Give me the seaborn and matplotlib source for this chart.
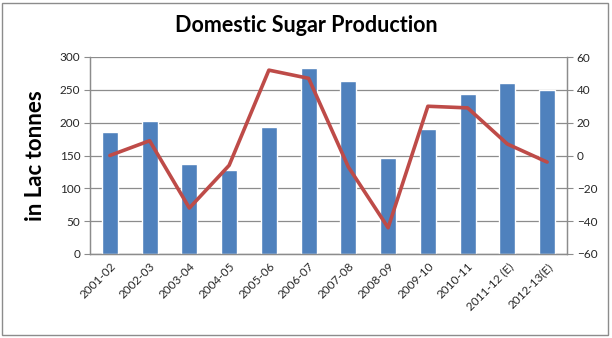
import numpy as np
import matplotlib
matplotlib.use("Agg")
import matplotlib.pyplot as plt
import seaborn as sns
from matplotlib.patches import Rectangle

seasons = ["2001-02", "2002-03", "2003-04", "2004-05", "2005-06", "2006-07",
           "2007-08", "2008-09", "2009-10", "2010-11", "2011-12 (E)", "2012-13(E)"]
production = [186, 203, 137, 128, 193, 284, 264, 146, 190, 244, 261, 250]
growth = [0, 9, -32, -6, 52, 47, -7, -44, 30, 29, 7, -4]
left_ticks = [0, 50, 100, 150, 200, 250, 300]
right_ticks = [-60, -40, -20, 0, 20, 40, 60]

sns.set_style("white")
plt.rcParams['font.family'] = ['Lato', 'DejaVu Sans']

fig = plt.figure(figsize=(6.12, 3.38), dpi=100)
ax = fig.add_axes([90/612, 1-254/338, (567-90)/612, (254-57)/338])

bar_color = "#4F81BD"
line_color = "#BE4B48"
grid_color = "#8C8C8C"
text_color = "#262626"

sns.barplot(x=seasons, y=production, color=bar_color, width=0.4, ax=ax,
            saturation=1, zorder=3)
ax.set_ylim(0, 300)
ax.set_yticks(left_ticks)
ax.set_xlim(-0.5, len(seasons) - 0.5)
ax.yaxis.grid(True, color=grid_color, linewidth=0.9, zorder=0)
ax.set_axisbelow(True)

ax2 = ax.twinx()
sns.lineplot(x=np.arange(len(seasons)), y=growth, color=line_color,
             linewidth=2.6, ax=ax2, zorder=4)
ax2.set_ylim(-60, 60)
ax2.set_yticks(right_ticks)
ax.set_xlim(-0.5, len(seasons) - 0.5)

for a in (ax, ax2):
    for s in a.spines.values():
        s.set_color(grid_color)
        s.set_linewidth(0.9)
    a.spines['top'].set_visible(False)

ax.set_xticks(np.arange(len(seasons)))
ax.set_xticklabels(seasons, rotation=45, ha='right', rotation_mode='anchor',
                   fontsize=8.5, color=text_color)
ax.set_xticks(np.arange(len(seasons) + 1) - 0.5, minor=True)
ax.tick_params(axis='x', which='major', length=0, pad=5)
ax.tick_params(axis='x', which='minor', length=4, color=grid_color, width=0.9)
ax.tick_params(axis='y', length=4, color=grid_color, labelsize=8.5,
               labelcolor=text_color, pad=3)
ax2.tick_params(axis='y', length=4, color=grid_color, labelsize=8.5,
                labelcolor=text_color, pad=3)
ax.set_xlabel("")
ax2.set_xlabel("")
ax2.set_ylabel("")

ax.set_ylabel("in Lac tonnes", fontsize=16, fontweight='bold', color='black',
              labelpad=10)
fig.text(0.5, 1 - 26/338, "Domestic Sugar Production", ha='center', va='center',
         fontsize=15.5, fontweight='bold', color='black')

fig.add_artist(Rectangle((2/612, 1-335/338), 606/612, 332/338, transform=fig.transFigure,
                         fill=False, edgecolor="#8C8C8C", linewidth=1))

fig.savefig("out.png", dpi=100)
